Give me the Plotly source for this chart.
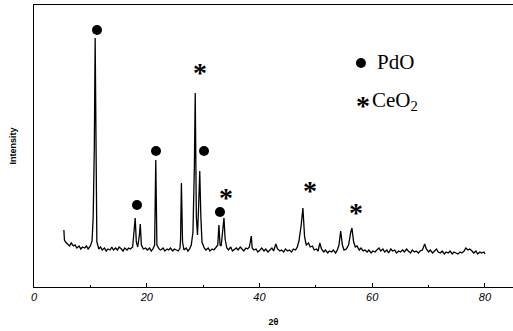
import plotly.graph_objects as go

# XRD pattern (2theta, intensity in arbitrary units)
two_theta = [5.3, 5.4, 5.6, 6.0, 6.3, 6.6, 7.0, 7.3, 7.6, 8.0, 8.3, 8.6, 9.0, 9.3, 9.6, 10.0,
             10.3, 10.5, 10.7, 10.85, 11.0, 11.15, 11.5, 11.8, 12.1, 12.5, 12.8, 13.1, 13.5, 13.8,
             14.1, 14.5, 14.8, 15.1, 15.5, 15.8, 16.1, 16.5, 16.8, 17.1, 17.5, 17.8, 17.95, 18.15,
             18.4, 18.7, 18.85, 19.05, 19.4, 19.8, 20.1, 20.5, 20.8, 21.1, 21.4, 21.6, 21.8, 22.2,
             22.5, 22.9, 23.2, 23.6, 23.9, 24.2, 24.6, 24.9, 25.2, 25.6, 25.9, 26.0, 26.15, 26.35,
             26.6, 27.0, 27.3, 27.6, 27.9, 28.2, 28.45, 28.6, 28.8, 29.0, 29.2, 29.4, 29.6, 29.8,
             30.2, 30.5, 30.9, 31.2, 31.6, 31.9, 32.2, 32.6, 32.8, 33.0, 33.2, 33.5, 33.7, 33.9,
             34.2, 34.5, 34.9, 35.2, 35.6, 35.9, 36.2, 36.6, 36.9, 37.2, 37.6, 37.9, 38.2, 38.4,
             38.55, 38.7, 39.0, 39.4, 39.7, 40.1, 40.4, 40.8, 41.1, 41.5, 41.8, 42.2, 42.5, 42.9,
             43.2, 43.6, 43.9, 44.3, 44.6, 45.0, 45.3, 45.7, 46.0, 46.4, 46.7, 47.0, 47.4, 47.7,
             48.0, 48.3, 48.7, 49.0, 49.4, 49.7, 50.1, 50.4, 50.7, 51.0, 51.4, 51.7, 52.1, 52.4,
             52.8, 53.1, 53.5, 53.8, 54.1, 54.4, 54.7, 55.0, 55.4, 55.8, 56.2, 56.4, 56.7, 57.0,
             57.3, 57.7, 58.0, 58.4, 58.7, 59.1, 59.4, 59.8, 60.1, 60.5, 60.8, 61.2, 61.5, 61.9,
             62.2, 62.6, 62.9, 63.3, 63.6, 64.0, 64.3, 64.7, 65.0, 65.4, 65.7, 66.1, 66.4, 66.8,
             67.1, 67.5, 67.8, 68.2, 68.5, 68.9, 69.3, 69.6, 70.0, 70.3, 70.7, 71.0, 71.4, 71.7,
             72.1, 72.4, 72.8, 73.1, 73.5, 73.8, 74.2, 74.5, 74.9, 75.2, 75.6, 75.9, 76.3, 76.6,
             77.0, 77.3, 77.7, 78.0, 78.4, 78.7, 79.1, 79.4, 79.8, 80.0]
intensity = [57, 47, 45, 43, 41, 44, 41, 42, 39, 41, 38, 40, 39, 41, 38, 41,
             46, 70, 140, 249, 120, 45, 38, 40, 37, 39, 36, 38, 37, 40,
             37, 39, 37, 40, 38, 36, 39, 37, 39, 38, 40, 55, 69, 45,
             40, 52, 63, 42, 38, 39, 37, 39, 36, 38, 42, 127, 42, 38,
             37, 39, 36, 38, 37, 39, 36, 38, 37, 36, 39, 48, 104, 45,
             37, 39, 36, 38, 42, 55, 120, 194, 70, 52, 80, 116, 70, 45,
             39, 37, 39, 36, 38, 37, 39, 42, 62, 42, 41, 55, 69, 48,
             39, 37, 40, 36, 38, 39, 37, 40, 38, 36, 39, 38, 40, 46,
             51, 39, 37, 38, 35, 37, 39, 36, 38, 35, 37, 39, 36, 43,
             38, 36, 37, 35, 38, 36, 37, 35, 38, 37, 40, 46, 62, 79,
             50, 42, 44, 40, 41, 37, 38, 36, 44, 38, 35, 37, 34, 36,
             35, 37, 34, 37, 42, 56, 42, 37, 38, 42, 55, 59, 45, 40,
             41, 37, 39, 36, 37, 35, 37, 34, 36, 35, 37, 39, 36, 38,
             35, 37, 34, 38, 36, 37, 34, 36, 35, 37, 35, 38, 36, 34,
             37, 35, 36, 34, 36, 37, 43, 38, 35, 37, 34, 36, 38, 35,
             34, 36, 33, 35, 34, 36, 33, 35, 34, 33, 35, 34, 36, 39,
             37, 38, 36, 34, 36, 33, 35, 34, 35, 33]

# peak labels
pdo_x = [11.18, 21.64, 30.16, 18.27, 32.99]
pdo_y = [257, 136, 136, 82, 75]
ceo2_x = [29.27, 33.88, 48.78, 56.94]
ceo2_y = [222, 97, 104, 82]

# key inside the plot
key_dot = (58.0, 224)
key_star = (58.18, 189)
key_labels = ["PdO", "CeO<sub>2</sub>"]

x_ticks = [0, 20, 40, 60, 80]

fig = go.Figure()
fig.add_trace(go.Scatter(x=two_theta, y=intensity, mode="lines",
                         line=dict(color="black", width=1.3), hoverinfo="skip"))
fig.add_trace(go.Scatter(x=pdo_x + [key_dot[0]], y=pdo_y + [key_dot[1]], mode="markers",
                         marker=dict(symbol="circle", size=10, color="black")))

star_font = dict(family="Liberation Serif", size=28, color="black", weight="bold")
for sx, sy in zip(ceo2_x + [key_star[0]], ceo2_y + [key_star[1]]):
    fig.add_annotation(x=sx, y=sy, text="*", showarrow=False, xshift=1, yshift=-7,
                       font=star_font)

fig.add_annotation(x=key_dot[0], y=key_dot[1], text=key_labels[0], showarrow=False,
                   xanchor="left", xshift=14, yshift=1,
                   font=dict(family="Liberation Serif", size=21, color="black"))
fig.add_annotation(x=key_star[0], y=key_star[1], text=key_labels[1], showarrow=False,
                   xanchor="left", xshift=8, yshift=-3,
                   font=dict(family="Liberation Serif", size=21, color="black"))

fig.update_layout(
    width=513, height=331, showlegend=False,
    margin=dict(l=34, r=0, t=5, b=44),
    plot_bgcolor="white", paper_bgcolor="white",
    xaxis=dict(range=[0, 84.97], tickvals=x_ticks, ticks="inside", ticklen=4,
               tickcolor="black", showgrid=False, zeroline=False,
               showline=True, linecolor="black", linewidth=1.3, mirror=True,
               minor=dict(tickvals=[10, 30, 50, 70], ticks="inside", ticklen=2, tickcolor="black"),
               tickfont=dict(family="Liberation Sans", size=11, color="black", style="italic"),
               title=dict(text="2θ", standoff=16,
                          font=dict(family="Liberation Sans", size=9, color="black", weight="bold"))),
    yaxis=dict(range=[0, 282], showticklabels=False, ticks="", showgrid=False, zeroline=False,
               showline=True, linecolor="black", linewidth=1.3,
               title=dict(text="Intensity", standoff=14,
                          font=dict(family="Liberation Sans", size=9, color="black", weight="bold"))),
)

fig.write_html("out.html")
